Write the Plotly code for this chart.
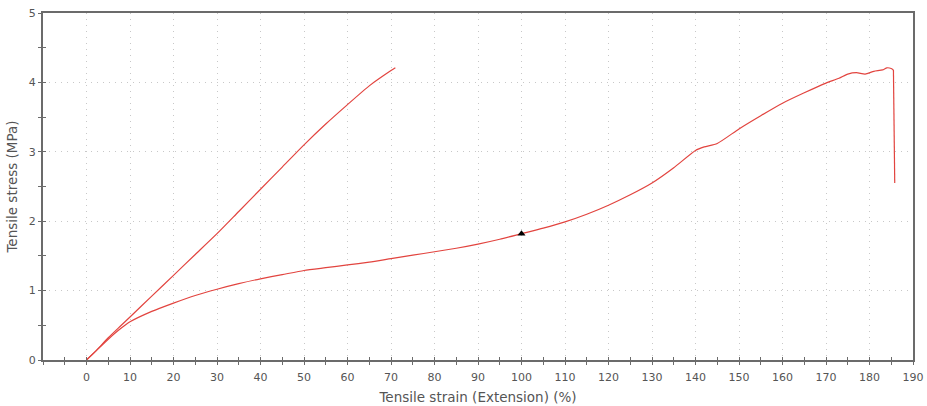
import plotly.graph_objects as go

# Specimen A: stiffer sample, stops at ~71 %
strain_a = [0, 2, 5, 8, 10, 15, 20, 25, 30, 35, 40, 45, 50, 55, 60, 65, 70, 71]
stress_a = [0, 0.12, 0.32, 0.50, 0.62, 0.92, 1.22, 1.52, 1.82, 2.14, 2.46, 2.78, 3.10, 3.40, 3.68, 3.95, 4.17, 4.21]

# Specimen B: long extension up to the break
strain_b = [0, 2, 5, 8, 10, 15, 20, 25, 30, 35, 40, 45, 50, 55, 60, 65, 70, 75, 80, 85, 90, 95,
            100, 105, 110, 115, 120, 125, 130, 135, 140, 142, 145, 150, 155, 160, 165, 170,
            173, 175, 177, 179, 181, 183, 184, 185, 185.5]
stress_b = [0, 0.12, 0.30, 0.46, 0.55, 0.70, 0.82, 0.93, 1.02, 1.10, 1.17, 1.23, 1.29, 1.33, 1.37, 1.41, 1.46, 1.51, 1.56, 1.61, 1.67, 1.74,
            1.82, 1.90, 1.99, 2.10, 2.23, 2.38, 2.55, 2.77, 3.02, 3.07, 3.12, 3.33, 3.52, 3.70, 3.85, 3.99,
            4.06, 4.12, 4.14, 4.12, 4.16, 4.18, 4.21, 4.20, 4.18]

# Specimen B: stress drop at fracture
strain_break = [185.5, 185.8]
stress_break = [4.18, 2.55]

# Marker on specimen B
mark_x = [100]
mark_y = [1.82]

xlabels = list(range(0, 200, 10))
ylabels = [0, 1, 2, 3, 4, 5]

line_color = "#e2443f"
axis_color = "#6b6b6b"
text_color = "#555555"
grid_color = "#c8c8c8"
font_family = "DejaVu Sans, Verdana, sans-serif"

fig = go.Figure()
fig.add_trace(go.Scatter(x=strain_a, y=stress_a, mode="lines",
                         line=dict(color=line_color, width=1.2, shape="spline", smoothing=0.6),
                         hoverinfo="skip"))
fig.add_trace(go.Scatter(x=strain_b, y=stress_b, mode="lines",
                         line=dict(color=line_color, width=1.2, shape="spline", smoothing=0.6),
                         hoverinfo="skip"))
fig.add_trace(go.Scatter(x=strain_break, y=stress_break, mode="lines",
                         line=dict(color=line_color, width=1.2), hoverinfo="skip"))
fig.add_trace(go.Scatter(x=mark_x, y=mark_y, mode="markers",
                         marker=dict(symbol="triangle-up", size=7, color="black"),
                         hoverinfo="skip"))
# invisible trace on the overlay axes so the inner tick marks are drawn
fig.add_trace(go.Scatter(x=[0], y=[0], xaxis="x2", yaxis="y2", mode="markers",
                         marker=dict(opacity=0), hoverinfo="skip"))

tickfont = dict(family=font_family, size=11, color=text_color)
title_font = dict(family=font_family, size=13.5, color=text_color)

fig.update_layout(
    width=927, height=406,
    margin=dict(l=43, r=14, t=13, b=46),
    paper_bgcolor="white", plot_bgcolor="white",
    showlegend=False,
    font=dict(family=font_family, color=text_color),
    xaxis=dict(range=[-10, 190], tickmode="array", tickvals=xlabels,
               ticktext=[str(v) for v in xlabels], automargin=False,
               showline=True, linecolor=axis_color, linewidth=2, mirror=True,
               ticks="outside", ticklen=3, tickcolor=axis_color, tickwidth=1,
               ticklabelstandoff=3,
               zeroline=False, showgrid=True, gridcolor=grid_color,
               griddash="1px,5px", gridwidth=1, tickfont=tickfont,
               minor=dict(dtick=5, tick0=0, ticks="outside", ticklen=3,
                          tickcolor=axis_color, showgrid=False),
               title=dict(text="Tensile strain (Extension) (%)", standoff=9,
                          font=title_font)),
    yaxis=dict(range=[0, 5], tickmode="array", tickvals=ylabels,
               ticktext=[str(v) for v in ylabels], automargin=False,
               showline=True, linecolor=axis_color, linewidth=2, mirror=True,
               ticks="outside", ticklen=3, tickcolor=axis_color, tickwidth=1,
               zeroline=False, showgrid=True, gridcolor=grid_color,
               griddash="1px,5px", gridwidth=1, tickfont=tickfont,
               minor=dict(dtick=0.5, tick0=0, ticks="outside", ticklen=3,
                          tickcolor=axis_color, showgrid=False),
               title=dict(text="Tensile stress (MPa)", standoff=8,
                          font=title_font)),
    xaxis2=dict(overlaying="x", range=[-10, 190], showticklabels=False,
                showgrid=False, zeroline=False, showline=False,
                tickmode="array", tickvals=xlabels, ticks="inside", ticklen=3,
                tickcolor=axis_color, automargin=False,
                minor=dict(dtick=5, tick0=0, ticks="inside", ticklen=3,
                           tickcolor=axis_color, showgrid=False)),
    yaxis2=dict(overlaying="y", range=[0, 5], showticklabels=False,
                showgrid=False, zeroline=False, showline=False,
                tickmode="array", tickvals=ylabels, ticks="inside", ticklen=3,
                tickcolor=axis_color, automargin=False,
                minor=dict(dtick=0.5, tick0=0, ticks="inside", ticklen=3,
                           tickcolor=axis_color, showgrid=False)),
)

fig.write_html("out.html")
